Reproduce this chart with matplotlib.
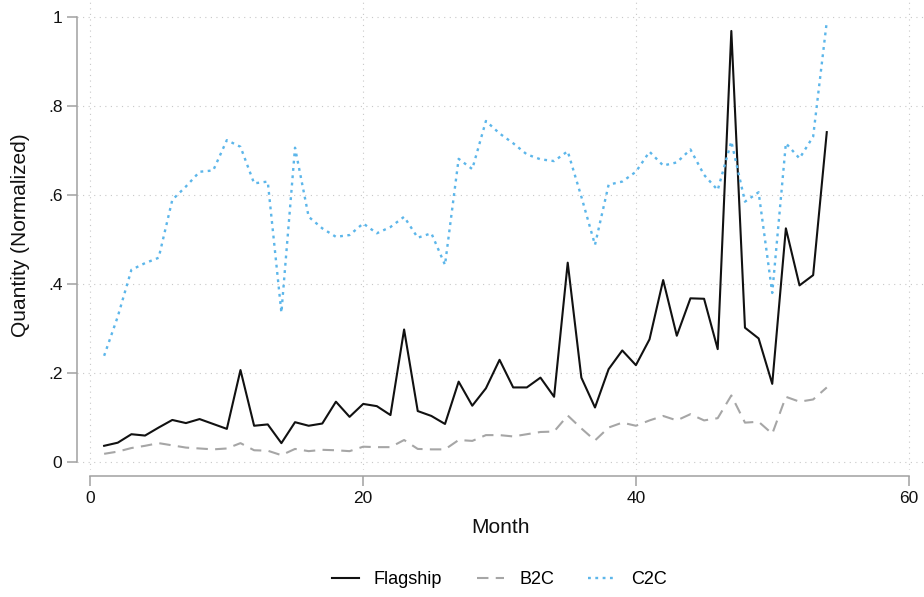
import matplotlib
matplotlib.use("Agg")
import matplotlib.pyplot as plt

plt.rcParams['font.family'] = ['Liberation Sans', 'DejaVu Sans']

# monthly normalized quantities by channel
months = list(range(1, 55))
flagship = [0.037, 0.044, 0.063, 0.060, 0.078, 0.095, 0.088, 0.097, 0.086, 0.075,
            0.207, 0.082, 0.085, 0.043, 0.090, 0.082, 0.087, 0.136, 0.102, 0.131,
            0.126, 0.106, 0.298, 0.115, 0.104, 0.086, 0.181, 0.127, 0.166, 0.230,
            0.168, 0.168, 0.190, 0.147, 0.448, 0.190, 0.123, 0.209, 0.251, 0.218,
            0.276, 0.409, 0.284, 0.368, 0.367, 0.254, 0.968, 0.302, 0.278, 0.176,
            0.525, 0.397, 0.420, 0.741]
b2c = [0.019, 0.024, 0.032, 0.037, 0.043, 0.038, 0.033, 0.031, 0.029, 0.031,
       0.043, 0.027, 0.026, 0.016, 0.030, 0.025, 0.028, 0.027, 0.025, 0.035,
       0.034, 0.034, 0.050, 0.030, 0.029, 0.029, 0.050, 0.048, 0.061, 0.061,
       0.058, 0.063, 0.068, 0.069, 0.105, 0.076, 0.049, 0.078, 0.089, 0.082,
       0.094, 0.104, 0.094, 0.108, 0.094, 0.099, 0.150, 0.089, 0.091, 0.064,
       0.147, 0.136, 0.141, 0.168]
c2c = [0.239, 0.327, 0.432, 0.447, 0.459, 0.589, 0.619, 0.652, 0.655, 0.723,
       0.708, 0.626, 0.630, 0.336, 0.706, 0.551, 0.525, 0.506, 0.510, 0.536,
       0.514, 0.528, 0.551, 0.504, 0.514, 0.443, 0.681, 0.658, 0.766, 0.738,
       0.716, 0.691, 0.680, 0.676, 0.698, 0.596, 0.488, 0.623, 0.630, 0.652,
       0.697, 0.666, 0.673, 0.702, 0.645, 0.611, 0.720, 0.585, 0.606, 0.380,
       0.716, 0.682, 0.731, 0.989]

xticks = [0, 20, 40, 60]
yticks = [0, 0.2, 0.4, 0.6, 0.8, 1.0]
ytick_labels = ["0", ".2", ".4", ".6", ".8", "1"]

fig = plt.figure(figsize=(9.24, 5.97), dpi=100)
ax = fig.add_axes([77 / 924, 127 / 597, 847 / 924, 470 / 597])

ax.plot(months, flagship, color='#111111', lw=1.5, label='Flagship')
ax.plot(months, b2c, color='#a6a6a6', lw=1.5, ls=(0, (5.5, 3.5)), label='B2C')
ax.plot(months, c2c, color='#5cb6ea', lw=1.7, ls=(0, (1.2, 1.9)), label='C2C')

ax.set_xlim(-0.99, 61.13)
ax.set_ylim(-0.0173, 1.0375)
ax.set_xticks(xticks)
ax.set_yticks(yticks)
ax.set_yticklabels(ytick_labels)

grid_style = dict(color='#c8c8c8', lw=0.8, ls=(0, (1.0, 4.0)))
ax.grid(True, **grid_style)
ax.set_axisbelow(True)

for side in ['top', 'right']:
    ax.spines[side].set_visible(False)
ax.spines['left'].set_bounds(0, 1)
ax.spines['bottom'].set_bounds(0, 60)
ax.spines['bottom'].set_position(('outward', 4.3))
for side in ['left', 'bottom']:
    ax.spines[side].set_color('#a0a0a0')
    ax.spines[side].set_linewidth(1.1)

ax.tick_params(axis='both', direction='out', length=7, width=1.1,
               color='#a0a0a0', labelsize=12.5, labelcolor='#111111')
ax.tick_params(axis='x', pad=4)
ax.tick_params(axis='y', pad=3.5)

ax.set_xlabel('Month', fontsize=15, color='#111111')
ax.set_ylabel('Quantity (Normalized)', fontsize=15, color='#111111')
ax.xaxis.set_label_coords(0.5, -0.102)
ax.yaxis.set_label_coords(-0.055, 0.5)

fig.legend(loc='center', bbox_to_anchor=(499 / 924, 1 - 580 / 597), ncol=3,
           frameon=False, fontsize=13, handlelength=1.5, handletextpad=0.85,
           columnspacing=1.9)

fig.savefig('out.png', dpi=100)
